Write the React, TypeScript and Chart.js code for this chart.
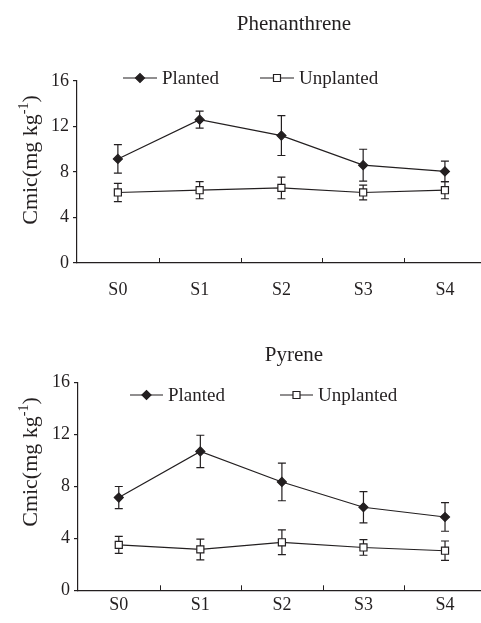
import React, { useEffect, useRef } from 'react';
import { Chart, registerables } from 'chart.js';

Chart.register(...registerables);

// ---------- data ----------
const categories = ['S0', 'S1', 'S2', 'S3', 'S4'];
const seriesLabels = ['Planted', 'Unplanted'];
const panelTitles = ['Phenanthrene', 'Pyrene'];
const yTickValues = [0, 4, 8, 12, 16];

const phenPlanted = [9.15, 12.6, 11.2, 8.6, 8.05];
const phenPlantedErr = [1.25, 0.75, 1.75, 1.4, 0.9];
const phenUnplanted = [6.2, 6.4, 6.6, 6.2, 6.4];
const phenUnplantedErr = [0.8, 0.75, 0.95, 0.65, 0.75];

const pyrPlanted = [7.15, 10.7, 8.35, 6.4, 5.65];
const pyrPlantedErr = [0.85, 1.25, 1.45, 1.2, 1.1];
const pyrUnplanted = [3.5, 3.15, 3.7, 3.3, 3.05];
const pyrUnplantedErr = [0.65, 0.8, 0.95, 0.6, 0.75];

// ---------- styling ----------
const INK = '#231f20';
const FONT = '"Liberation Serif", "Times New Roman", serif';

const errorBarPlugin = {
  id: 'errorBars',
  beforeDatasetsDraw(chart: any) {
    const { ctx } = chart;
    const ys = chart.scales.y;
    chart.data.datasets.forEach((ds: any, i: number) => {
      const meta = chart.getDatasetMeta(i);
      const errs: number[] = ds.errors || [];
      ctx.save();
      ctx.strokeStyle = INK;
      ctx.lineWidth = 1.2;
      meta.data.forEach((pt: any, j: number) => {
        const v = ds.data[j];
        const e = errs[j] || 0;
        const top = ys.getPixelForValue(v + e);
        const bot = ys.getPixelForValue(v - e);
        const cap = 4;
        ctx.beginPath();
        ctx.moveTo(pt.x, top);
        ctx.lineTo(pt.x, bot);
        ctx.moveTo(pt.x - cap, top);
        ctx.lineTo(pt.x + cap, top);
        ctx.moveTo(pt.x - cap, bot);
        ctx.lineTo(pt.x + cap, bot);
        ctx.stroke();
      });
      ctx.restore();
    });
  },
};

function drawMarker(ctx: CanvasRenderingContext2D, kind: string, x: number, y: number) {
  ctx.save();
  ctx.lineWidth = 1.2;
  ctx.strokeStyle = INK;
  ctx.beginPath();
  if (kind === 'rectRot') {
    const r = 4.5;
    ctx.moveTo(x - r, y);
    ctx.lineTo(x, y - r);
    ctx.lineTo(x + r, y);
    ctx.lineTo(x, y + r);
    ctx.closePath();
    ctx.fillStyle = INK;
  } else {
    const s = 3.5;
    ctx.rect(x - s, y - s, 2 * s, 2 * s);
    ctx.fillStyle = '#ffffff';
  }
  ctx.fill();
  ctx.stroke();
  ctx.restore();
}

const decorPlugin = {
  id: 'decor',
  afterDraw(chart: any, _args: any, opts: any) {
    const { ctx, chartArea } = chart;
    const xs = chart.scales.x;
    ctx.save();
    // inward tick marks at category boundaries
    ctx.strokeStyle = INK;
    ctx.lineWidth = 1;
    ctx.beginPath();
    for (let i = 1; i <= categories.length; i++) {
      const a = xs.getPixelForTick(i - 1);
      const b = i < categories.length ? xs.getPixelForTick(i) : a + (a - xs.getPixelForTick(i - 2));
      const x = Math.round((a + b) / 2) + 0.5;
      ctx.moveTo(x, chartArea.bottom);
      ctx.lineTo(x, chartArea.bottom - 5);
    }
    ctx.stroke();

    // panel title
    ctx.fillStyle = INK;
    ctx.font = `21px ${FONT}`;
    ctx.textAlign = 'center';
    ctx.textBaseline = 'middle';
    ctx.fillText(opts.title, chartArea.left + opts.titleDX, opts.titleY);

    // y-axis title with superscript
    ctx.translate(opts.yTitleX, opts.yTitleY);
    ctx.rotate(-Math.PI / 2);
    ctx.textAlign = 'left';
    ctx.textBaseline = 'alphabetic';
    const main = 'Cmic(mg kg';
    const sup = '-1';
    const close = ')';
    ctx.font = `22px ${FONT}`;
    const w1 = ctx.measureText(main).width;
    const w3 = ctx.measureText(close).width;
    ctx.font = `14px ${FONT}`;
    const w2 = ctx.measureText(sup).width;
    const total = w1 + w2 + w3;
    let x0 = -total / 2;
    ctx.font = `22px ${FONT}`;
    ctx.fillText(main, x0, 0);
    x0 += w1;
    ctx.font = `14px ${FONT}`;
    ctx.fillText(sup, x0, -9);
    x0 += w2;
    ctx.font = `22px ${FONT}`;
    ctx.fillText(close, x0, 0);
    ctx.restore();

    // legend
    ctx.save();
    chart.data.datasets.forEach((ds: any, i: number) => {
      const item = opts.legend[i];
      const y = opts.legendY;
      ctx.strokeStyle = INK;
      ctx.lineWidth = 1.2;
      ctx.beginPath();
      ctx.moveTo(item.x1, y);
      ctx.lineTo(item.x2, y);
      ctx.stroke();
      drawMarker(ctx, ds.pointStyle, (item.x1 + item.x2) / 2, y);
      ctx.fillStyle = INK;
      ctx.font = `19px ${FONT}`;
      ctx.textAlign = 'left';
      ctx.textBaseline = 'middle';
      ctx.fillText(ds.label, item.x2 + 5, y + 1);
    });
    ctx.restore();
  },
};

type Panel = {
  title: string;
  planted: number[];
  plantedErr: number[];
  unplanted: number[];
  unplantedErr: number[];
  height: number;
  padTop: number;
  axisWidth: number;
  xAxisHeight: number;
  tickPad: number;
  titleDX: number;
  titleY: number;
  yTitleX: number;
  yTitleY: number;
  legendY: number;
  legend: { x1: number; x2: number }[];
};

const panels: Panel[] = [
  {
    title: panelTitles[0],
    planted: phenPlanted,
    plantedErr: phenPlantedErr,
    unplanted: phenUnplanted,
    unplantedErr: phenUnplantedErr,
    height: 310,
    padTop: 81,
    axisWidth: 77,
    xAxisHeight: 47,
    tickPad: 16,
    titleDX: 217,
    titleY: 24,
    yTitleX: 37,
    yTitleY: 160,
    legendY: 78,
    legend: [
      { x1: 123, x2: 157 },
      { x1: 260, x2: 294 },
    ],
  },
  {
    title: panelTitles[1],
    planted: pyrPlanted,
    plantedErr: pyrPlantedErr,
    unplanted: pyrUnplanted,
    unplantedErr: pyrUnplantedErr,
    height: 313,
    padTop: 72.7,
    axisWidth: 78,
    xAxisHeight: 32.7,
    tickPad: 4,
    titleDX: 216,
    titleY: 45,
    yTitleX: 37,
    yTitleY: 152,
    legendY: 85,
    legend: [
      { x1: 130, x2: 163 },
      { x1: 280, x2: 313 },
    ],
  },
];

const CANVAS_W = 492;

function PanelChart({ p }: { p: Panel }) {
  const ref = useRef<HTMLCanvasElement | null>(null);
  useEffect(() => {
    if (!ref.current) return;
    const chart = new Chart(ref.current, {
      type: 'line',
      data: {
        labels: categories,
        datasets: [
          {
            label: seriesLabels[0],
            data: p.planted,
            errors: p.plantedErr,
            borderColor: INK,
            borderWidth: 1.2,
            pointStyle: 'rectRot',
            pointRadius: 4.5,
            pointBackgroundColor: INK,
            pointBorderColor: INK,
            pointBorderWidth: 1.2,
            tension: 0,
          } as any,
          {
            label: seriesLabels[1],
            data: p.unplanted,
            errors: p.unplantedErr,
            borderColor: INK,
            borderWidth: 1.2,
            pointStyle: 'rect',
            pointRadius: 5,
            pointBackgroundColor: '#ffffff',
            pointBorderColor: INK,
            pointBorderWidth: 1.2,
            tension: 0,
          } as any,
        ],
      },
      options: {
        animation: false,
        responsive: false,
        devicePixelRatio: 1,
        events: [],
        layout: { padding: { top: p.padTop, left: 0, right: 2, bottom: 0 } },
        plugins: {
          legend: { display: false },
          title: { display: false },
          tooltip: { enabled: false },
          decor: p as any,
        } as any,
        scales: {
          x: {
            type: 'category',
            offset: true,
            grid: { display: false, drawTicks: false },
            border: { display: true, color: INK, width: 1.2 },
            ticks: {
              color: INK,
              font: { family: FONT, size: 18 },
              padding: p.tickPad,
              maxRotation: 0,
            },
            afterFit: (s: any) => {
              s.height = p.xAxisHeight;
            },
          },
          y: {
            min: 0,
            max: 16,
            afterBuildTicks: (s: any) => {
              s.ticks = yTickValues.map((v) => ({ value: v }));
            },
            grid: {
              drawOnChartArea: false,
              drawTicks: true,
              tickLength: 4,
              color: INK,
              lineWidth: 1.2,
            },
            border: { display: true, color: INK, width: 1.2 },
            ticks: {
              color: INK,
              font: { family: FONT, size: 18 },
              padding: 4,
            },
            afterFit: (s: any) => {
              s.width = p.axisWidth;
            },
          },
        },
      } as any,
      plugins: [errorBarPlugin, decorPlugin],
    });
    return () => chart.destroy();
  }, [p]);
  return (
    <canvas
      ref={ref}
      width={CANVAS_W}
      height={p.height}
      style={{ display: 'block', width: CANVAS_W, height: p.height }}
    />
  );
}

export default function App() {
  return (
    <div
      style={{
        position: 'absolute',
        left: 0,
        top: 0,
        width: 481,
        height: 623,
        overflow: 'hidden',
        background: '#ffffff',
      }}
    >
      {panels.map((p, i) => (
        <PanelChart key={i} p={p} />
      ))}
    </div>
  );
}
